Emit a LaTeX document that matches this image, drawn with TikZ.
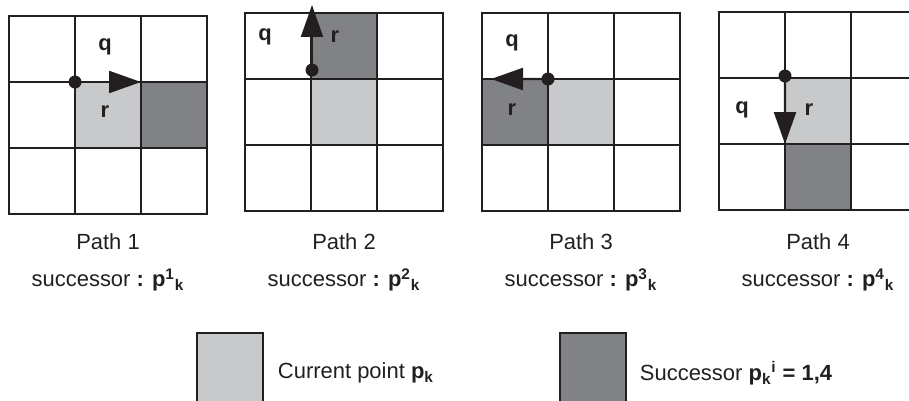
\documentclass[tikz,border=0pt]{standalone}
\usepackage{fontspec}
\setmainfont{Liberation Sans}
\usetikzlibrary{arrows.meta, positioning}
\definecolor{curgray}{HTML}{C8C9CB}
\definecolor{sucgray}{HTML}{808285}
\definecolor{inkblk}{HTML}{231F20}

\begin{document}
\begin{tikzpicture}[
  x=0.02cm, y=-0.02cm,
  >={Triangle[length=6.4mm, width=4.4mm]},
  cell/.style={draw=inkblk, line width=0.7pt, minimum width=13.2mm,
    minimum height=13.2mm, inner sep=0pt, outer sep=0pt},
  dot/.style={circle, fill=inkblk, minimum size=2.6mm, inner sep=0pt},
  move/.style={->, line width=1.3pt, inkblk},
  lbl/.style={font=\fontsize{12.5}{14}\selectfont\bfseries, text=inkblk},
  txt/.style={font=\fontsize{12.5}{14}\selectfont, text=inkblk, inner sep=0pt},
  legbox/.style={draw=inkblk, line width=0.7pt, minimum width=13.2mm,
    minimum height=16mm, inner sep=0pt},
]

% Frame
\clip (0,0) rectangle (909,400);

% === Grids: 3x3 cells each ===
\foreach \g/\ox/\oy in {1/9/16, 2/245/13, 3/482/13, 4/719/12} {
  \foreach \r in {0,1,2} {
    \foreach \c in {0,1,2} {
      \node[cell] (g\g-\r\c) at (\ox+33+66*\c, \oy+33+66*\r) {};
    }
  }
}

% === Path 1: move right ===
\node[cell, fill=curgray] at (g1-11) {};
\node[cell, fill=sucgray] at (g1-12) {};
\node[lbl] at (105,47) {q};
\node[lbl] at (105,112) {r};
\node[dot] (d1) at (g1-11.north west) {};
\coordinate (t1) at (g1-12.north west);
\draw[move] (d1.center) -- (t1);

% === Path 2: move up ===
\node[cell, fill=curgray] at (g2-11) {};
\node[cell, fill=sucgray] at (g2-01) {};
\node[lbl] at (265,37) {q};
\node[lbl] at (335,37) {r};
\node[dot] (d2) at (312,70) {};
\coordinate (t2) at (312,5);
\draw[move] (d2.center) -- (t2);

% === Path 3: move left ===
\node[cell, fill=curgray] at (g3-11) {};
\node[cell, fill=sucgray] at (g3-10) {};
\node[lbl] at (512,43) {q};
\node[lbl] at (512,110) {r};
\node[dot] (d3) at (g3-11.north west) {};
\coordinate (t3) at (491,79);
\draw[move] (d3.center) -- (t3);

% === Path 4: move down ===
\node[cell, fill=curgray] at (g4-11) {};
\node[cell, fill=sucgray] at (g4-21) {};
\node[lbl] at (742,110) {q};
\node[lbl] at (809,110) {r};
\node[dot] (d4) at (785,76) {};
\coordinate (t4) at (g4-21.north west);
\draw[move] (d4.center) -- (t4);

% === Captions ===
\node[txt] (p1) at (108,242) {Path 1};
\node[txt] (p2) at (344,242) {Path 2};
\node[txt] (p3) at (581,242) {Path 3};
\node[txt] (p4) at (818,242) {Path 4};
\node[txt] (s1) at (108,280) {successor \textbf{: p\textsuperscript{1}\textsubscript{k}}};
\node[txt] (s2) at (344,280) {successor \textbf{: p\textsuperscript{2}\textsubscript{k}}};
\node[txt] (s3) at (581,280) {successor \textbf{: p\textsuperscript{3}\textsubscript{k}}};
\node[txt] (s4) at (818,280) {successor \textbf{: p\textsuperscript{4}\textsubscript{k}}};

% === Legend ===
\node[legbox, fill=curgray] (lcur) at (230,373) {};
\node[txt, right=2.8mm of lcur] (tcur) {Current point \textbf{p\textsubscript{k}}};
\node[legbox, fill=sucgray] (lsuc) at (593,373) {};
\node[txt, right=2.6mm of lsuc] (tsuc) {Successor \textbf{p\textsubscript{k}\textsuperscript{i} = 1,4}};

\end{tikzpicture}
\end{document}
